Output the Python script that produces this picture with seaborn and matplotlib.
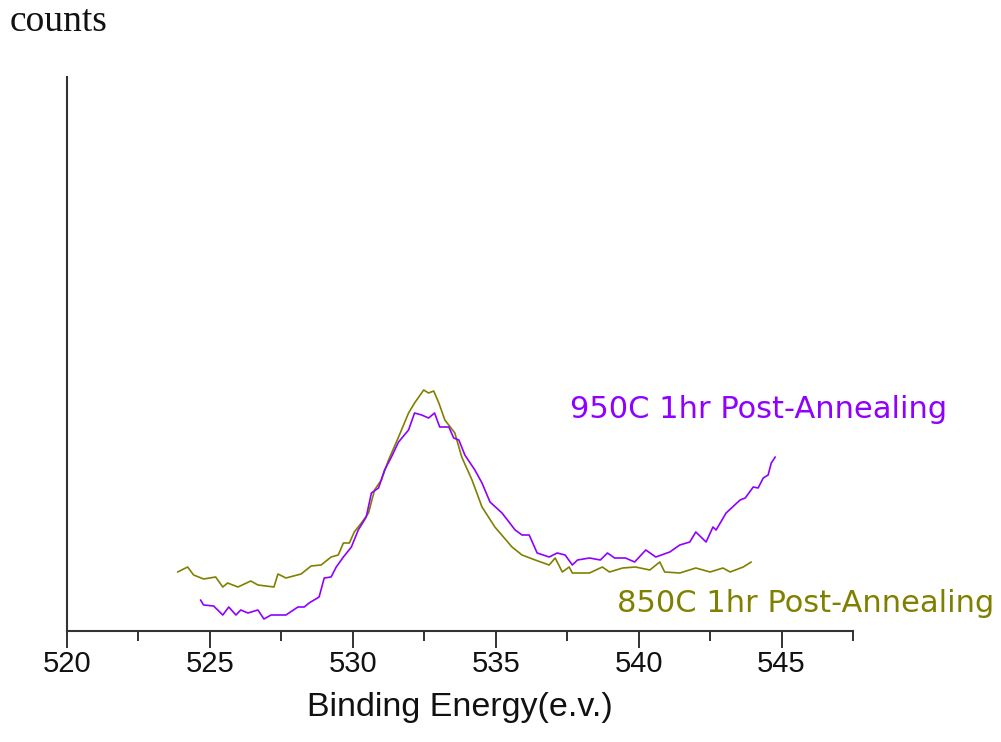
import numpy as np
import pandas as pd
import matplotlib
matplotlib.use("Agg")
import matplotlib.pyplot as plt
from matplotlib.ticker import MultipleLocator
import seaborn as sns

# ---- data (binding energy in eV, counts in arbitrary units) ----
energy_850 = [523.87, 524.22, 524.43, 524.78, 525.20, 525.45, 525.62, 525.98, 526.43, 526.68,
              527.24, 527.38, 527.66, 528.19, 528.54, 528.89, 529.24, 529.49, 529.67, 529.88,
              530.05, 530.30, 530.55, 530.76, 531.00, 531.25, 531.60, 531.95, 532.16, 532.48,
              532.65, 532.83, 533.01, 533.22, 533.57, 533.81, 534.17, 534.52, 534.97, 535.57,
              535.92, 536.38, 536.87, 537.08, 537.33, 537.57, 537.68, 538.28, 538.73, 538.98,
              539.44, 539.89, 540.39, 540.74, 540.91, 541.44, 542.00, 542.50, 542.95, 543.20,
              543.66, 543.94]
counts_850 = [59, 64, 56, 52, 54, 44, 48, 44, 50, 46,
              44, 57, 53, 57, 65, 66, 74, 76, 88, 88,
              99, 108, 118, 141, 151, 171, 194, 218, 228, 241,
              238, 240, 228, 211, 198, 174, 151, 124, 104, 84,
              76, 71, 66, 73, 59, 64, 58, 58, 64, 59,
              63, 64, 61, 69, 59, 58, 63, 59, 63, 59,
              64, 69]

energy_950 = [524.67, 524.78, 525.13, 525.45, 525.66, 525.91, 526.08, 526.33, 526.68, 526.89,
              527.14, 527.66, 528.08, 528.30, 528.47, 528.82, 529.00, 529.24, 529.42, 529.67,
              529.95, 530.19, 530.47, 530.65, 530.90, 531.11, 531.35, 531.60, 531.95, 532.16,
              532.41, 532.65, 532.86, 533.04, 533.36, 533.53, 533.71, 533.92, 534.27, 534.52,
              534.80, 535.22, 535.68, 535.92, 536.17, 536.45, 536.87, 537.15, 537.43, 537.68,
              537.86, 538.28, 538.66, 538.91, 539.16, 539.54, 539.86, 540.25, 540.60, 541.09,
              541.44, 541.79, 542.00, 542.36, 542.60, 542.71, 543.06, 543.55, 543.73, 544.01,
              544.18, 544.36, 544.53, 544.64, 544.78]
counts_950 = [31, 26, 25, 16, 24, 16, 21, 18, 21, 12,
              16, 16, 24, 24, 28, 34, 53, 54, 64, 74,
              84, 101, 114, 138, 143, 161, 174, 189, 201, 218,
              216, 213, 218, 204, 204, 193, 191, 176, 161, 148,
              129, 118, 101, 96, 96, 78, 74, 78, 76, 66,
              71, 73, 71, 78, 73, 73, 69, 81, 74, 79,
              86, 89, 99, 89, 104, 101, 118, 131, 133, 144,
              143, 153, 156, 168, 174]

x_ticks = [520, 525, 530, 535, 540, 545]
label_950 = "950C 1hr Post-Annealing"
label_850 = "850C 1hr Post-Annealing"

color_950 = "#8F00FF"
color_850 = "#808000"

sns.set_theme(style="white")
plt.rcParams["font.family"] = ["Liberation Sans", "DejaVu Sans"]

fig = plt.figure(figsize=(10.01, 7.42), dpi=100)
ax = fig.add_axes([67 / 1001, 1 - 631 / 742, (853 - 67) / 1001, (631 - 77) / 742])

df850 = pd.DataFrame({"energy": energy_850, "counts": counts_850})
df950 = pd.DataFrame({"energy": energy_950, "counts": counts_950})
sns.lineplot(data=df850, x="energy", y="counts", ax=ax, color=color_850,
             linewidth=1.2, sort=False, estimator=None)
sns.lineplot(data=df950, x="energy", y="counts", ax=ax, color=color_950,
             linewidth=1.2, sort=False, estimator=None)

ax.set_xlim(520, 547.5)
ax.set_ylim(0, 554)
ax.set_xticks(x_ticks)
ax.set_xticklabels([str(t) for t in x_ticks])
ax.xaxis.set_minor_locator(MultipleLocator(2.5))
ax.set_yticks([])
ax.tick_params(axis="x", which="major", direction="out", length=12, width=1.3,
               color="#222222", labelsize=21, pad=2, bottom=True, labelcolor="#111111")
ax.tick_params(axis="x", which="minor", direction="out", length=7, width=1.3,
               color="#222222", bottom=True)
for s in ["top", "right"]:
    ax.spines[s].set_visible(False)
for s in ["left", "bottom"]:
    ax.spines[s].set_color("#333333")
    ax.spines[s].set_linewidth(1.5)

ax.set_xlabel("Binding Energy(e.v.)", fontsize=24.5, labelpad=10, color="#111111")
ax.set_ylabel("")

ax.text(537.6, 221, label_950, color=color_950, fontsize=22, ha="left", va="center",
        family=["DejaVu Sans"])
ax.text(539.26, 28, label_850, color=color_850, fontsize=22, ha="left", va="center",
        family=["DejaVu Sans"])

fig.text(10 / 1001, 1 - 22 / 742, "counts", family=["Liberation Serif", "DejaVu Serif"],
         fontsize=27, ha="left", va="center", color="#111111")

fig.savefig("out.png", dpi=100)
